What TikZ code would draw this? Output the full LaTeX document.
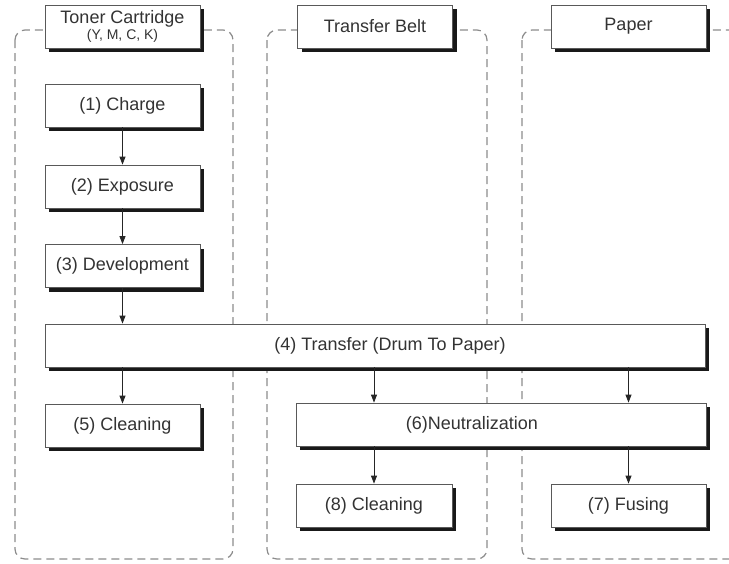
\documentclass[tikz,border=0pt]{standalone}
\usepackage{fontspec}
\setmainfont{Liberation Sans}
\usetikzlibrary{arrows.meta, shadows}

\begin{document}
\begin{tikzpicture}[
    x=1pt, y=-1pt,
    >={Triangle[length=8pt, width=6pt]},
    font=\fontsize{18}{20}\selectfont,
    lane/.style={draw=black!45, line width=1.2pt, dash pattern=on 8pt off 5pt, rounded corners=10pt},
    stepbox/.style={draw=black!65, fill=white, line width=0.8pt, minimum width=155pt, minimum height=43pt,
        inner sep=0pt, text=black!80, align=center,
        drop shadow={shadow xshift=4pt, shadow yshift=-4pt, fill=black!90, opacity=1}},
    widebox/.style={stepbox, minimum width=#1},
    boxtext/.style={text=black!80, inner sep=0pt},
    flow/.style={->, line width=0.8pt, black!85}
]

\useasboundingbox (0,0) rectangle (729,563);

% Lane geometry
\def\laneTop{30}
\def\laneBot{559}

% ===== Lanes =====
\draw[lane] (15,\laneTop) rectangle (233,\laneBot);
\draw[lane] (267,\laneTop) rectangle (487,\laneBot);
\draw[lane] (522,\laneTop) rectangle (741,\laneBot);

% ===== Headers =====
\node[stepbox] (toner) at (122.5,26.5) {Toner Cartridge\\[-4pt]{\fontsize{14}{15}\selectfont (Y, M, C, K)}};
\node[stepbox] (belt) at (375,26.5) {Transfer Belt};
\node[stepbox] (paper) at (628.5,26.5) {Paper};

% ===== Toner cartridge steps =====
\node[stepbox] (charge) at (122.5,105.5) {(1) Charge};
\node[stepbox] (exposure) at (122.5,186.5) {(2) Exposure};
\node[stepbox] (develop) at (122.5,266) {(3) Development};

% ===== Transfer =====
\node[widebox=660pt] (transfer) at (375,345.5) {};
\node[boxtext, xshift=15pt] (transferTxt) at (transfer) {(4) Transfer (Drum To Paper)};

% ===== After transfer =====
\node[stepbox] (clean5) at (122.5,425.5) {(5) Cleaning};
\node[widebox=410pt] (neutral) at (501,424.5) {};
\node[boxtext, xshift=-29pt] (neutralTxt) at (neutral) {(6)Neutralization};
\node[stepbox, minimum width=156pt] (clean8) at (374,505.5) {(8) Cleaning};
\node[stepbox] (fusing) at (628.5,505.5) {(7) Fusing};

% ===== Flow =====
\draw[flow] (charge) -- (exposure);
\draw[flow] (exposure) -- (develop);
\draw[flow] (develop) -- (develop |- transfer.north);
\draw[flow] (transfer.south -| clean5) -- (clean5);
\draw[flow] (transfer.south -| clean8) -- (neutral.north -| clean8);
\draw[flow] (transfer.south -| fusing) -- (neutral.north -| fusing);
\draw[flow] (neutral.south -| clean8) -- (clean8);
\draw[flow] (neutral.south -| fusing) -- (fusing);

\end{tikzpicture}
\end{document}
